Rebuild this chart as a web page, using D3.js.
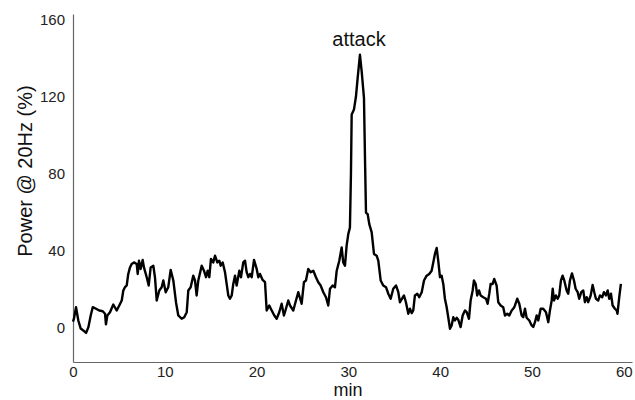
<!DOCTYPE html>
<html>
<head>
<meta charset="utf-8">
<script src="https://cdn.jsdelivr.net/npm/d3@7"></script>
<style>
  body { margin: 0; background: #fff; }
  text { font-family: "Liberation Sans", Arial, sans-serif; }
</style>
</head>
<body>
<svg id="chart" width="635" height="400"></svg>
<script>
// thời gian (phút) và công suất @ 20Hz (%)
const minutes = [0, 0.11, 0.33, 0.58, 0.84, 1.12, 1.42, 1.67, 1.93, 2.15, 2.51, 2.86, 3.24, 3.49, 3.59, 3.74,
  4.03, 4.39, 4.76, 5.04, 5.31, 5.48, 5.66, 5.85, 6.02, 6.21, 6.39, 6.64, 6.94, 7.05, 7.19, 7.37, 7.59,
  7.73, 8.03, 8.25, 8.46, 8.75, 8.93, 9.12, 9.40, 9.66, 9.84, 10.10, 10.38, 10.64, 10.93, 11.22, 11.47,
  11.84, 12.12, 12.39, 12.56, 12.82, 13.10, 13.29, 13.47, 13.65, 14.02, 14.27, 14.49, 14.67, 14.85,
  15.03, 15.28, 15.47, 15.72, 15.94, 16.09, 16.31, 16.56, 16.74, 16.92, 17.10, 17.29, 17.46, 17.65,
  17.83, 18.12, 18.30, 18.55, 18.74, 18.92, 19.10, 19.28, 19.47, 19.72, 20.01, 20.19, 20.37, 20.66,
  20.92, 21.10, 21.38, 21.65, 21.93, 22.19, 22.47, 22.73, 22.98, 23.20, 23.45, 23.64, 24.00, 24.29,
  24.54, 24.91, 25.16, 25.38, 25.63, 25.89, 26.18, 26.47, 26.72, 26.98, 27.27, 27.56, 27.81, 28.00,
  28.29, 28.54, 28.73, 29.01, 29.27, 29.44, 29.63, 29.81, 29.99, 30.17, 30.28, 30.36, 30.61, 30.83,
  31.01, 31.26, 31.45, 31.70, 31.81, 31.92, 32.10, 32.28, 32.54, 32.79, 33.08, 33.26, 33.52, 33.80,
  34.10, 34.35, 34.61, 34.89, 35.19, 35.44, 35.62, 36.06, 36.27, 36.53, 36.71, 36.90, 37.07, 37.25,
  37.51, 37.72, 37.99, 38.24, 38.53, 38.81, 39.07, 39.25, 39.43, 39.62, 39.79, 39.98, 40.16, 40.34,
  40.52, 40.71, 40.88, 41.07, 41.25, 41.43, 41.61, 41.80, 41.97, 42.23, 42.45, 42.70, 42.89, 43.14,
  43.32, 43.54, 43.68, 43.87, 44.04, 44.23, 44.41, 44.70, 44.99, 45.17, 45.35, 45.50, 45.72, 45.89,
  46.15, 46.33, 46.59, 46.87, 47.06, 47.31, 47.53, 47.79, 48.04, 48.15, 48.40, 48.62, 48.88, 49.05,
  49.24, 49.42, 49.71, 49.97, 50.14, 50.33, 50.51, 50.69, 50.95, 51.23, 51.53, 51.78, 51.96, 52.15,
  52.26, 52.40, 52.61, 52.80, 52.97, 53.16, 53.34, 53.52, 53.78, 53.95, 54.14, 54.36, 54.58, 54.76,
  54.98, 55.15, 55.37, 55.59, 55.77, 55.96, 56.13, 56.40, 56.61, 56.79, 56.97, 57.22, 57.41, 57.66,
  57.84, 58.06, 58.25, 58.42, 58.61, 58.79, 59.04, 59.23, 59.32, 59.51, 59.69];

const power = [3, 4.7, 10.5, 3.6, -0.6, -1.6, -2.9, 0, 6.2, 10.5, 9.7, 8.8, 8.4, 7.1, 1.6, 6.2,
  7.9, 11.9, 8.8, 11.4, 14, 19.2, 20.9, 21.8, 27.8, 31.2, 33, 33.8, 33, 27.8, 34.7, 30.4, 35.1,
  31.2, 26.1, 21.8, 31.2, 32.1, 26.1, 14, 19.2, 20.9, 24.4, 18.3, 20.9, 29.9, 24.4, 13.1, 6.2,
  4.5, 5.3, 7.9, 19.2, 20.9, 26.9, 24.4, 16.6, 24.4, 32.1, 29.5, 26.1, 29.5, 26.1,
  35.6, 33.8, 37.3, 33.8, 34.7, 32.1, 33.8, 28.7, 22.6, 16.6, 14.9, 16.6, 22.6, 26.9,
  21.8, 29.5, 26.1, 33.8, 34.7, 28.7, 26.1, 27.8, 26.1, 35.1, 30.4, 26.1, 27.8, 24.7,
  23.5, 8.8, 11.4, 8.8, 6.2, 4.5, 7.9, 12.3, 6.2, 9.7, 14, 11.4, 8.8, 14,
  18.3, 12.3, 23.5, 24.4, 30.4, 28.7, 29.5, 26.1, 23.5, 21.8, 18.3, 15.7, 11.4, 20.1,
  21.8, 20.9, 29.5, 34.7, 41.6, 33.8, 32.1, 42.5, 48.5, 52, 79.6, 110.7, 113.3, 120.2,
  129.7, 141.8, 133.2, 119.3, 88.2, 59.7, 58.9, 53.7, 49.4, 38.2, 37.3, 34.7, 24.4, 21.8,
  20.9, 17.5, 14.9, 20.1, 21.8, 18.3, 13.1, 16.6, 13.1, 7.1, 9.7, 7.4, 8.8, 16.6,
  17.5, 15.7, 18.3, 24.4, 26.9, 27.8, 29.5, 33.8, 38.2, 41.3, 34.7, 26.1, 26.9, 22.6,
  14.9, 10.5, 5.3, -0.7, 1.0, 5.3, 3.6, 5.0, 4.0, 0.2, 6.2, 8.8, 7.9, 4.5,
  14, 19.2, 24.4, 22.6, 16.6, 19.2, 16.6, 15.7, 14.9, 12.3, 17.5, 22.6, 22.6, 25.2,
  21.8, 13.1, 11.4, 10.5, 6.2, 7.1, 6.2, 8.8, 10.2, 11.4, 14.9, 12.3, 6.2, 5.3,
  9.7, 5.0, 3.6, 1.0, 0.2, 2.7, 6.2, 3.6, 9.7, 9.7, 7.9, 2.7, 8.8, 14,
  20.1, 14, 16.6, 14.9, 16.6, 24.4, 26.9, 24.4, 19.2, 17.5, 24.4, 28.1, 24.4, 20.1,
  18.3, 14.9, 18.3, 19.2, 13.1, 15.7, 13.1, 16.6, 22.1, 18.3, 14.9, 14, 16.6, 15.7,
  18.3, 16.6, 19.2, 14.9, 17.5, 11.4, 9.7, 8.8, 7.1, 15.7, 22.6];

const xTicks = [0, 10, 20, 30, 40, 50, 60];
const yTicks = [0, 40, 80, 120, 160];

const data = minutes.map((m, i) => ({ t: m, v: power[i] }));

const svg = d3.select("#chart");

const x = d3.scaleLinear().domain([0, 60.9]).range([73, 632]);
const y = d3.scaleLinear().domain([-18, 163]).range([362, 14]);

// Trục X
const gx = svg.append("g")
  .attr("transform", "translate(0,362)")
  .call(d3.axisBottom(x).tickValues(xTicks).tickSize(0).tickPadding(4));
gx.select(".domain").attr("stroke", "#666").attr("stroke-width", 1.2);
gx.selectAll("text")
  .style("font-size", "15px")
  .attr("fill", "#222")
  .attr("font-family", "Liberation Sans, Arial, sans-serif");

// Trục Y
const gy = svg.append("g")
  .attr("transform", "translate(73,0)")
  .call(d3.axisLeft(y).tickValues(yTicks).tickSize(0).tickPadding(8));
gy.select(".domain").attr("stroke", "#666").attr("stroke-width", 1.2);
gy.selectAll("text")
  .style("font-size", "15px")
  .attr("fill", "#222")
  .attr("font-family", "Liberation Sans, Arial, sans-serif");

// Đường dữ liệu
const line = d3.line().x(d => x(d.t)).y(d => y(d.v));
svg.append("path")
  .datum(data)
  .attr("fill", "none")
  .attr("stroke", "#000")
  .attr("stroke-width", 2.4)
  .attr("stroke-linejoin", "round")
  .attr("d", line);

// Nhãn trục
svg.append("text")
  .attr("x", 348)
  .attr("y", 396)
  .attr("text-anchor", "middle")
  .style("font-size", "18px")
  .attr("fill", "#111")
  .text("min");

svg.append("text")
  .attr("transform", "translate(32,171) rotate(-90)")
  .attr("text-anchor", "middle")
  .style("font-size", "20px")
  .attr("fill", "#111")
  .text("Power @ 20Hz (%)");

// Chú thích đỉnh
svg.append("text")
  .attr("x", 359)
  .attr("y", 46)
  .attr("text-anchor", "middle")
  .style("font-size", "20px")
  .attr("fill", "#111")
  .text("attack");
</script>
</body>
</html>
